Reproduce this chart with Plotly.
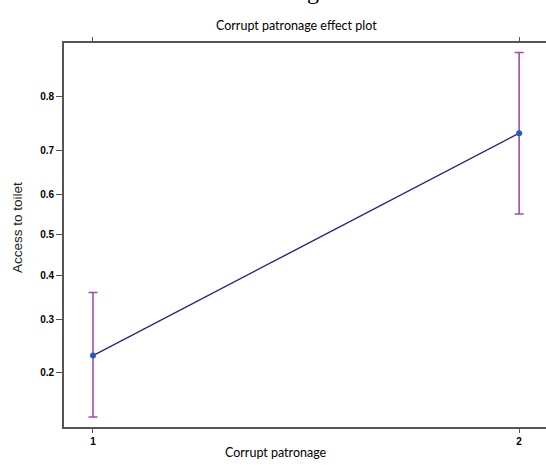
import numpy as np
import plotly.graph_objects as go

# Effect estimates (probability scale) with confidence limits
patronage = [1, 2]
fit = [0.229, 0.735]
lower = [0.138, 0.552]
upper = [0.359, 0.862]
ytick_values = [0.2, 0.3, 0.4, 0.5, 0.6, 0.7, 0.8]
ytick_labels = ["0.2", "0.3", "0.4", "0.5", "0.6", "0.7", "0.8"]


def logit(p):
    p = np.asarray(p, dtype=float)
    return np.log(p / (1 - p))


fit_l = logit(fit)
err_plus = logit(upper) - fit_l
err_minus = fit_l - logit(lower)

W, H = 546, 465
ML, MR, MT, MB = 64, 0, 43, 38
PW, PH = W - ML - MR, H - MT - MB


def px_x(x):
    return (x - ML) / PW


def px_y(y):
    return 1 - (y - MT) / PH


fig = go.Figure()

fig.add_trace(go.Scatter(
    x=patronage, y=fit_l, mode="lines+markers",
    line=dict(color="#26268c", width=1.4),
    marker=dict(color="#1f5cc4", size=6),
    error_y=dict(type="data", symmetric=False, array=err_plus,
                 arrayminus=err_minus, color="#a44ca8",
                 thickness=1.6, width=4.5),
    showlegend=False,
))

axis_line = "#555555"
fig.update_layout(
    width=W, height=H,
    margin=dict(l=ML, r=MR, t=MT, b=MB),
    paper_bgcolor="white", plot_bgcolor="white",
    xaxis=dict(
        range=[0.932, 2.063], tickvals=patronage,
        ticktext=["<b>%d</b>" % v for v in patronage],
        tickfont=dict(family="Liberation Sans", size=10, color="black"),
        showgrid=False, zeroline=False,
        showline=True, linecolor=axis_line, linewidth=1.6,
        mirror="ticks", ticks="outside", ticklen=4, tickcolor=axis_line,
        tickwidth=1,
    ),
    yaxis=dict(
        range=[-1.932, 1.927], tickvals=list(logit(ytick_values)),
        ticktext=["<b>%s</b>" % t for t in ytick_labels],
        tickfont=dict(family="Liberation Sans", size=10, color="black"),
        showgrid=False, zeroline=False,
        showline=True, linecolor=axis_line, linewidth=1.6,
        ticks="outside", ticklen=6, tickcolor=axis_line, tickwidth=1,
    ),
    annotations=[
        dict(text="Figure 6", x=px_x(327), y=px_y(6), xref="paper",
             yref="paper", xanchor="center", yanchor="bottom",
             showarrow=False,
             font=dict(family="Liberation Serif", size=24, color="black")),
        dict(text="Corrupt patronage effect plot", x=px_x(296),
             y=px_y(25), xref="paper", yref="paper", xanchor="center",
             yanchor="middle", showarrow=False,
             font=dict(family="Lato", size=12.5, color="black")),
        dict(text="Corrupt patronage", x=px_x(276), y=px_y(452),
             xref="paper", yref="paper", xanchor="center",
             yanchor="middle", showarrow=False,
             font=dict(family="Lato", size=12.5, color="black")),
        dict(text="Access to toilet", x=px_x(18), y=px_y(228),
             xref="paper", yref="paper", xanchor="center",
             yanchor="middle", textangle=-90, showarrow=False,
             font=dict(family="Liberation Sans", size=13.5,
                       color="#222222")),
    ],
)

fig.write_html("out.html")
